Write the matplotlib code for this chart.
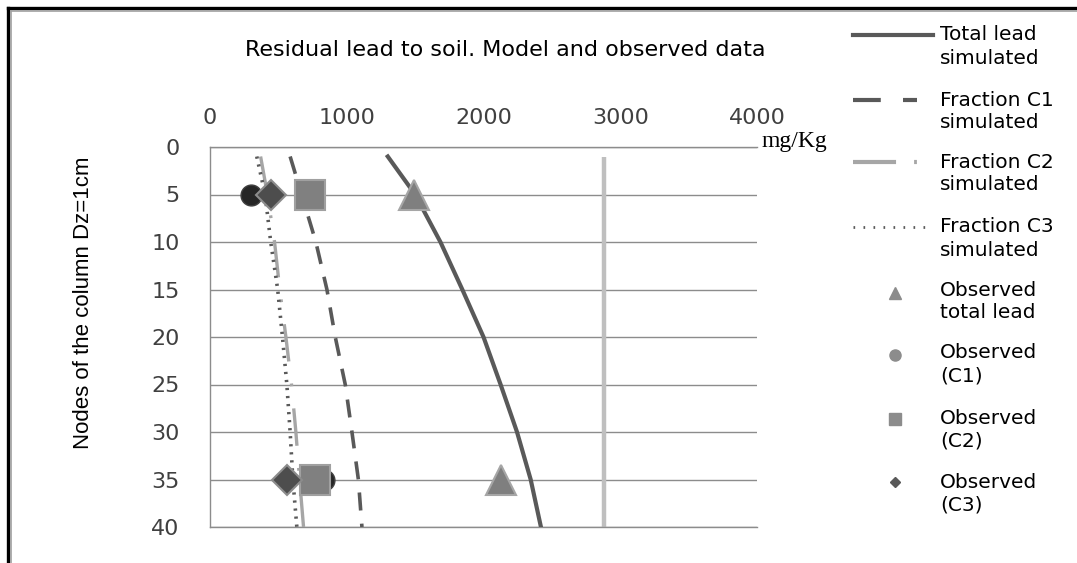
import matplotlib
matplotlib.use("Agg")
import matplotlib.pyplot as plt
from matplotlib.lines import Line2D

plt.rcParams['lines.scale_dashes'] = False
plt.rcParams['font.family'] = ['DejaVu Sans']

# ---------------- data ----------------
nodes = [1, 5, 10, 15, 20, 25, 30, 35, 40]
total_sim = [1300, 1500, 1685, 1845, 2000, 2125, 2245, 2345, 2420]
c1_sim = [586, 670, 774, 855, 916, 989, 1038, 1085, 1111]
c2_sim = [370, 420, 472, 510, 555, 596, 628, 655, 684]
c3_sim = [342, 403, 444, 495, 530, 562, 586, 606, 635]

limit_nodes = [1, 40]
limit_vals = [2880, 2880]

obs_nodes = [5, 35]
obs_total = [1495, 2130]
obs_c1 = [300, 835]
obs_c2 = [733, 765]
obs_c3 = [445, 564]

x_ticks = [0, 1000, 2000, 3000, 4000]
y_ticks = [0, 5, 10, 15, 20, 25, 30, 35, 40]

title = "Residual lead to soil. Model and observed data"
ylabel = "Nodes of the column Dz=1cm"
unit = "mg/Kg"
legend_labels = [
    ("Total lead", "simulated"),
    ("Fraction C1", "simulated"),
    ("Fraction C2", "simulated"),
    ("Fraction C3", "simulated"),
    ("Observed", "total lead"),
    ("Observed", "(C1)"),
    ("Observed", "(C2)"),
    ("Observed", "(C3)"),
]

# ---------------- figure ----------------
W, H = 1077, 563
fig = plt.figure(figsize=(W / 100, H / 100), dpi=100)
fig.patch.set_facecolor('white')

L, R, T, B = 210, 757, 147, 527
ax = fig.add_axes([L / W, 1 - B / H, (R - L) / W, (B - T) / H])

dark = '#595959'
ax.plot(limit_vals, limit_nodes, color='#bfbfbf', lw=3.2, solid_capstyle='butt', zorder=2)
ax.plot(total_sim, nodes, color=dark, lw=3.0, zorder=3)
ax.plot(c1_sim, nodes, color=dark, lw=2.6, dashes=(13, 9.5), zorder=3)
ax.plot(c2_sim, nodes, color='#a6a6a6', lw=2.4, dashes=(27, 16, 2, 16), zorder=3)
ax.plot(c3_sim, nodes, color=dark, lw=2.6, dashes=(1.6, 4.2), zorder=3)

ax.plot(obs_total, obs_nodes, ls='none', marker='^', ms=21, mfc='#7f7f7f',
        mec='#a6a6a6', mew=1.5, zorder=4)
ax.plot(obs_c1, obs_nodes, ls='none', marker='o', ms=15, mfc='#262626',
        mec='#404040', mew=1, zorder=4)
ax.plot(obs_c2, obs_nodes, ls='none', marker='s', ms=21, mfc='#808080',
        mec='#a0a0a0', mew=1.5, zorder=5)
ax.plot(obs_c3, obs_nodes, ls='none', marker='D', ms=15, mfc='#4d4d4d',
        mec='#8c8c8c', mew=1.5, zorder=6)

ax.set_xlim(0, 4000)
ax.set_ylim(40, 0)
ax.set_xticks(x_ticks)
ax.set_yticks(y_ticks)
ax.xaxis.tick_top()
ax.tick_params(axis='both', length=0, labelsize=16, labelcolor='#404040')
ax.tick_params(axis='x', pad=14)
ax.tick_params(axis='y', pad=22)
ax.grid(axis='y', color='#8c8c8c', lw=1.0)
ax.grid(axis='x', visible=False)
ax.spines['right'].set_visible(False)
for s in ['left', 'top', 'bottom']:
    ax.spines[s].set_color('#8c8c8c')
    ax.spines[s].set_linewidth(1.0)
ax.set_axisbelow(True)

# ---------------- overlay (text, legend, frame) ----------------
ov = fig.add_axes([0, 0, 1, 1], zorder=10)
ov.set_xlim(0, W)
ov.set_ylim(H, 0)
ov.axis('off')
ov.patch.set_visible(False)

# frame
ov.add_line(Line2D([7.5, 7.5], [7.5, H], color='black', lw=2.4))
ov.add_line(Line2D([7.5, W], [7.5, 7.5], color='black', lw=2.4))
ov.add_line(Line2D([11, 11], [11, H], color='#a0a0a0', lw=1.2))
ov.add_line(Line2D([11, W], [11, 11], color='#a0a0a0', lw=1.2))

ov.text(505, 50, title, ha='center', va='center', fontsize=16, color='black')
ov.text(84, 303, ylabel, rotation=90, ha='center', va='center', fontsize=16,
        color='black', family=['Liberation Sans', 'DejaVu Sans'])
ov.text(761, 142, unit, ha='left', va='center', fontsize=17, color='black',
        family=['Liberation Serif', 'DejaVu Serif'])

# legend
ys = [35, 100, 162, 227, 290, 353, 418, 482]
hx0, hx1, mx, tx = 853, 933, 895, 940
ov.add_line(Line2D([hx0, hx1], [ys[0]] * 2, color=dark, lw=3.0))
ov.add_line(Line2D([hx0, hx1 - 16], [ys[1]] * 2, color=dark, lw=3.0, dashes=(20, 16)))
ov.add_line(Line2D([hx0, hx1 - 10], [ys[2]] * 2, color='#a6a6a6', lw=3.0, dashes=(31, 13, 2, 20)))
ov.add_line(Line2D([hx0, hx1], [ys[3]] * 2, color=dark, lw=2.0, dashes=(1.2, 6.0)))
ov.plot([mx], [ys[4] + 3], marker='^', ms=9, color='#8c8c8c', ls='none')
ov.plot([mx], [ys[5] + 2], marker='o', ms=8, color='#8c8c8c', ls='none')
ov.plot([mx], [ys[6] + 1], marker='s', ms=8, color='#8c8c8c', ls='none')
ov.plot([mx], [ys[7]], marker='D', ms=5.5, color='#595959', ls='none')
for y, (l1, l2) in zip(ys, legend_labels):
    ov.text(tx, y, l1, ha='left', va='center', fontsize=14.5, color='black')
    ov.text(tx, y + 23, l2, ha='left', va='center', fontsize=14.5, color='black')

fig.savefig('out.png', dpi=100, facecolor='white')
